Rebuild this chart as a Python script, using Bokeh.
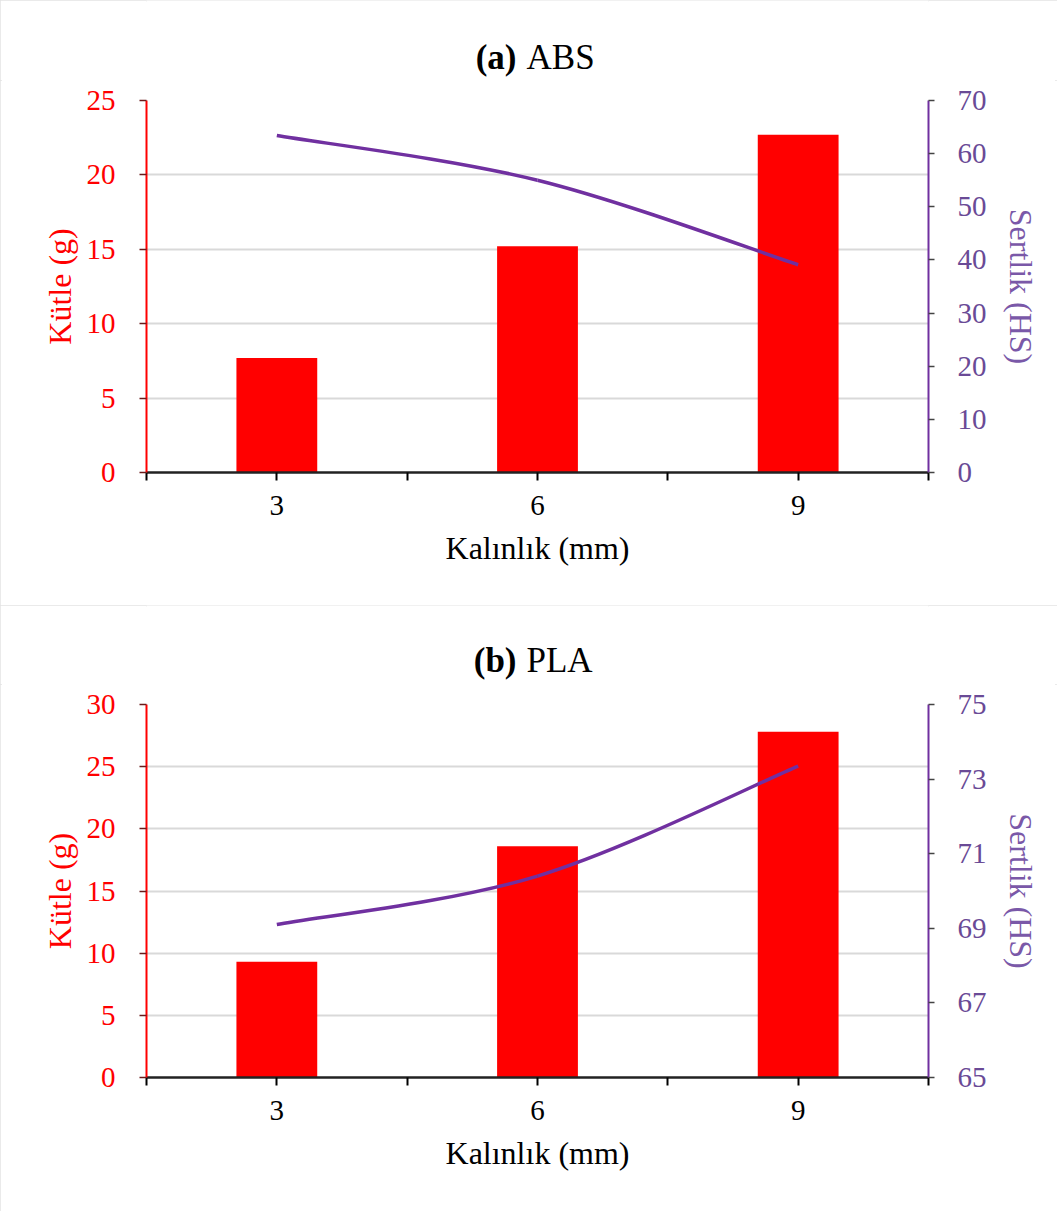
from bokeh.plotting import figure
from bokeh.models import Range1d, LinearAxis, FixedTicker, ColumnDataSource
from bokeh.layouts import column
from bokeh.core.properties import value
from bokeh.embed import file_html
from bokeh.resources import INLINE

# ---- data ----
thickness = [3, 6, 9]
x_tick_labels = ["3", "6", "9"]
abs_mass = [7.7, 15.2, 22.7]
abs_hardness = [63.4, 55.0, 39.1]
pla_mass = [9.3, 18.6, 27.8]
pla_hardness = [69.1, 70.4, 73.35]

FONT = "Liberation Serif"
RED = "#FF0000"
PURPLE = "#7030A0"
W = 1057
BL, BR = 146, 129


def smooth_segments(xs, ys):
    """Excel-style smoothed line: cubic Bezier segments through the data points."""
    n = len(xs)
    d = dict(x0=[], y0=[], x1=[], y1=[], cx0=[], cy0=[], cx1=[], cy1=[])
    for i in range(n - 1):
        xm, ym = (xs[i - 1], ys[i - 1]) if i > 0 else (xs[i], ys[i])
        xp, yp = (xs[i + 2], ys[i + 2]) if i + 2 < n else (xs[i + 1], ys[i + 1])
        d["x0"].append(xs[i]); d["y0"].append(ys[i])
        d["x1"].append(xs[i + 1]); d["y1"].append(ys[i + 1])
        d["cx0"].append(xs[i] + (xs[i + 1] - xm) / 6.0)
        d["cy0"].append(ys[i] + (ys[i + 1] - ym) / 6.0)
        d["cx1"].append(xs[i + 1] - (xp - xs[i]) / 6.0)
        d["cy1"].append(ys[i + 1] - (yp - ys[i]) / 6.0)
    return d


def make_title(tag, name, height, baseline_from_bottom):
    t = figure(width=W, height=height, output_backend="svg",
               toolbar_location=None,
               x_range=Range1d(1.5, 10.5), y_range=Range1d(0, height),
               min_border_left=BL, min_border_right=BR,
               min_border_top=0, min_border_bottom=0)
    t.axis.visible = False
    t.grid.visible = False
    t.outline_line_color = None
    split = 5.816
    t.text(x=[split], y=[baseline_from_bottom], text=[tag],
           text_align="right", text_baseline="alphabetic", x_offset=-5,
           text_font=value(FONT), text_font_size="35px",
           text_font_style="bold", text_color="black")
    t.text(x=[split], y=[baseline_from_bottom], text=[name],
           text_align="left", text_baseline="alphabetic", x_offset=5,
           text_font=value(FONT), text_font_size="35px",
           text_color="black")
    return t


def make_chart(mass, hard, ymax, ystep, hmin, hmax, hticks, top, frame_h, bottom):
    height = top + frame_h + bottom
    p = figure(width=W, height=height, output_backend="svg",
               toolbar_location=None,
               x_range=Range1d(1.5, 10.5), y_range=Range1d(0, ymax),
               min_border_left=BL, min_border_right=BR,
               min_border_top=top, min_border_bottom=bottom)
    p.outline_line_color = None
    p.extra_y_ranges = {"hs": Range1d(hmin, hmax)}

    # grid
    p.xgrid.grid_line_color = None
    p.ygrid.grid_line_color = "#d9d9d9"
    p.ygrid.grid_line_width = 2

    # bars
    p.vbar(x=thickness, top=mass, width=0.93, color=RED, line_color=None)

    # smoothed hardness line
    seg = ColumnDataSource(smooth_segments(thickness, hard))
    p.bezier(x0="x0", y0="y0", x1="x1", y1="y1", cx0="cx0", cy0="cy0",
             cx1="cx1", cy1="cy1", source=seg, line_color=PURPLE,
             line_width=3.5, y_range_name="hs")

    # x axis
    xa = p.xaxis[0]
    xa.ticker = FixedTicker(ticks=[1.5, 3, 4.5, 6, 7.5, 9, 10.5])
    xa.major_label_overrides = {1.5: "", 3: x_tick_labels[0], 4.5: "",
                                6: x_tick_labels[1], 7.5: "",
                                9: x_tick_labels[2], 10.5: ""}
    xa.minor_tick_line_color = None
    xa.major_tick_in = 0
    xa.major_tick_out = 8
    xa.major_tick_line_width = 2
    xa.major_tick_line_color = "black"
    xa.axis_line_color = "#222222"
    xa.axis_line_width = 2.5
    xa.major_label_text_font = FONT
    xa.major_label_text_font_size = "29px"
    xa.major_label_text_color = "black"
    xa.major_label_standoff = 15
    xa.axis_label = "Kalınlık (mm)"
    xa.axis_label_text_font = FONT
    xa.axis_label_text_font_size = "32px"
    xa.axis_label_text_font_style = "normal"
    xa.axis_label_text_color = "black"
    xa.axis_label_standoff = 12

    # left axis
    ya = p.yaxis[0]
    ya.ticker = FixedTicker(ticks=list(range(0, ymax + 1, ystep)))
    ya.minor_tick_line_color = None
    ya.major_tick_in = 0
    ya.major_tick_out = 7
    ya.major_tick_line_color = "#6a1a1a"
    ya.major_tick_line_width = 1.5
    ya.axis_line_color = RED
    ya.axis_line_width = 2
    ya.major_label_text_font = FONT
    ya.major_label_text_font_size = "29px"
    ya.major_label_text_color = RED
    ya.major_label_standoff = 24
    ya.axis_label = "Kütle (g)"
    ya.axis_label_text_font = FONT
    ya.axis_label_text_font_size = "32px"
    ya.axis_label_text_font_style = "normal"
    ya.axis_label_text_color = RED
    ya.axis_label_standoff = 6

    # right axis
    ra = LinearAxis(y_range_name="hs")
    ra.ticker = FixedTicker(ticks=hticks)
    ra.minor_tick_line_color = None
    ra.major_tick_in = 0
    ra.major_tick_out = 6
    ra.major_tick_line_color = "#444444"
    ra.major_tick_line_width = 1.5
    ra.axis_line_color = PURPLE
    ra.axis_line_width = 2
    ra.major_label_text_font = FONT
    ra.major_label_text_font_size = "29px"
    ra.major_label_text_color = "#6a4a96"
    ra.major_label_standoff = 23
    ra.axis_label = "Sertlik (HS)"
    ra.axis_label_text_font = FONT
    ra.axis_label_text_font_size = "32px"
    ra.axis_label_text_font_style = "normal"
    ra.axis_label_text_color = "#7a58a8"
    ra.axis_label_standoff = 13
    p.add_layout(ra, "right")
    return p


ta = make_title("(a)", "ABS", 80, 23)
pa = make_chart(abs_mass, abs_hardness, 25, 5, 0, 70, list(range(0, 71, 10)),
                top=20, frame_h=372, bottom=133)
tb = make_title("(b)", "PLA", 79, 24)
pb = make_chart(pla_mass, pla_hardness, 30, 5, 65, 75, [65, 67, 69, 71, 73, 75],
                top=20, frame_h=373, bottom=134)

panel_a = column(ta, pa, spacing=0)
panel_b = column(tb, pb, spacing=0)
for c in (panel_a, panel_b):
    c.styles = {"outline": "2px solid #e3e3e3", "outline-offset": "-2px"}

layout = column(panel_a, panel_b, spacing=0)
open("out.html", "w").write(file_html(layout, INLINE))
